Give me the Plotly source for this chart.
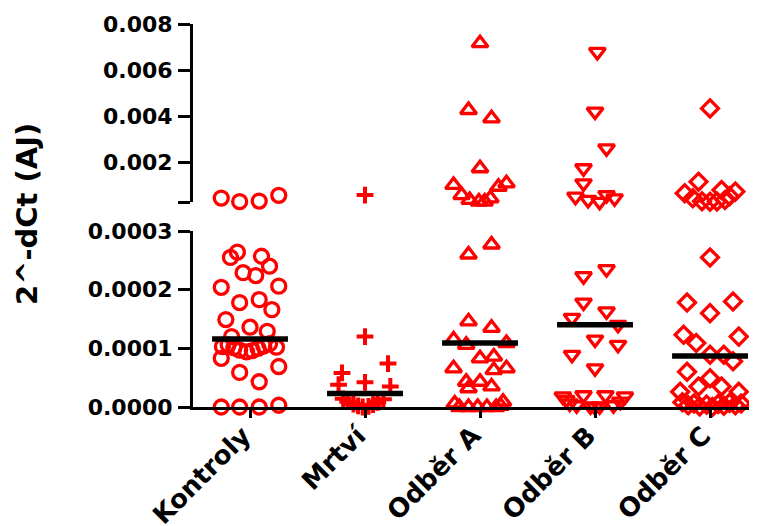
import plotly.graph_objects as go

categories = ["Kontroly", "Mrtví", "Odběr A", "Odběr B", "Odběr C"]

# values (2^-dCt) and horizontal scatter offsets (category units)
kontroly_values = [2.64e-4, 2.55e-4, 2.57e-4, 2.40e-4, 2.29e-4, 2.24e-4, 2.04e-4, 2.06e-4,
                   1.78e-4, 1.83e-4, 1.66e-4, 1.49e-4, 1.36e-4, 1.29e-4, 1.20e-4,
                   1.03e-4, 1.06e-4, 1.01e-4, 0.97e-4, 0.94e-4, 0.96e-4, 1.00e-4, 1.04e-4, 1.08e-4, 1.02e-4,
                   0.83e-4, 0.69e-4, 0.59e-4, 0.43e-4, 0.0, 0.0, 0.0, 0.03e-4,
                   4.7e-4, 3.2e-4, 3.4e-4, 5.9e-4]
kontroly_jitter = [-0.11, -0.17, 0.10, 0.17, -0.06, 0.05, -0.25, 0.25,
                   -0.09, 0.08, 0.19, -0.21, 0.00, 0.15, -0.16,
                   -0.24, -0.19, -0.14, -0.09, -0.03, 0.02, 0.07, 0.12, 0.17, 0.23,
                   -0.25, 0.25, -0.09, 0.08, -0.25, -0.09, 0.08, 0.25,
                   -0.25, -0.09, 0.08, 0.25]

mrtvi_values = [6.0e-4, 1.20e-4, 0.74e-4, 0.58e-4, 0.42e-4, 0.38e-4, 0.35e-4,
                0.14e-4, 0.09e-4, 0.05e-4, 0.02e-4, 0.0, 0.01e-4, 0.04e-4, 0.08e-4, 0.13e-4]
mrtvi_jitter = [0.0, 0.0, 0.20, -0.20, 0.0, -0.23, 0.22,
                -0.19, -0.15, -0.10, -0.06, -0.02, 0.03, 0.07, 0.11, 0.16]

odber_a_values = [7.17e-3, 4.28e-3, 3.92e-3, 1.76e-3, 1.04e-3, 1.11e-3, 0.96e-3, 0.60e-3,
                  0.39e-3, 0.32e-3, 0.32e-3, 0.46e-3,
                  2.60e-4, 2.77e-4, 1.46e-4, 1.35e-4, 1.15e-4, 1.06e-4, 1.09e-4, 0.83e-4, 0.86e-4,
                  0.66e-4, 0.63e-4, 0.66e-4, 0.43e-4, 0.43e-4, 0.35e-4, 0.32e-4, 0.06e-4, 0.09e-4,
                  0.0, 0.0, 0.0, 0.0, 0.0, 0.02e-4]
odber_a_jitter = [0.0, -0.10, 0.10, 0.0, -0.23, 0.23, 0.16, -0.16,
                  -0.09, -0.01, 0.04, 0.09,
                  -0.10, 0.10, -0.10, 0.10, -0.23, -0.12, 0.23, 0.0, 0.12,
                  -0.23, 0.12, 0.23, -0.12, 0.0, 0.10, -0.10, -0.22, 0.20,
                  -0.18, -0.10, -0.02, 0.06, 0.14, 0.18]

odber_b_values = [6.79e-3, 4.21e-3, 2.62e-3, 1.76e-3, 1.11e-3, 0.53e-3, 0.39e-3, 0.31e-3, 0.60e-3, 0.46e-3,
                  2.35e-4, 2.23e-4, 1.78e-4, 1.63e-4, 1.52e-4, 1.40e-4, 1.15e-4, 1.06e-4, 0.89e-4, 0.66e-4,
                  0.18e-4, 0.20e-4, 0.20e-4, 0.18e-4, 0.06e-4, 0.03e-4, 0.01e-4, 0.01e-4, 0.03e-4, 0.09e-4,
                  0.0, 0.12e-4]
odber_b_jitter = [0.02, 0.0, 0.10, -0.10, -0.10, -0.17, -0.06, 0.04, 0.10, 0.17,
                  0.10, -0.10, -0.10, 0.10, -0.20, 0.20, 0.0, 0.20, -0.20, 0.0,
                  -0.28, -0.10, 0.09, 0.26, -0.22, -0.16, -0.04, 0.04, 0.16, 0.22,
                  0.0, -0.25]

odber_c_values = [4.35e-3, 1.18e-3, 0.68e-3, 0.82e-3, 0.75e-3, 0.46e-3, 0.33e-3, 0.31e-3, 0.32e-3,
                  0.39e-3, 0.55e-3,
                  2.55e-4, 1.78e-4, 1.80e-4, 1.60e-4, 1.23e-4, 1.20e-4, 1.09e-4, 0.89e-4, 0.89e-4,
                  0.78e-4, 0.60e-4, 0.49e-4, 0.35e-4, 0.35e-4, 0.26e-4, 0.26e-4,
                  0.08e-4, 0.03e-4, 0.06e-4, 0.01e-4, 0.04e-4, 0.0, 0.05e-4, 0.02e-4, 0.07e-4,
                  0.03e-4, 0.06e-4]
odber_c_jitter = [0.0, -0.10, -0.22, 0.10, 0.22, -0.15, -0.07, 0.0, 0.06,
                  0.13, 0.17,
                  0.0, -0.20, 0.20, 0.0, -0.23, 0.25, -0.12, 0.0, 0.12,
                  0.20, -0.20, 0.0, -0.10, 0.10, -0.26, 0.25,
                  -0.24, -0.19, -0.14, -0.09, -0.03, 0.02, 0.07, 0.12, 0.17,
                  0.22, 0.27]

central_lines = [1.16e-4, 0.23e-4, 1.09e-4, 1.40e-4, 0.87e-4]

break_value = 3e-4
lower_ticks = [0.0, 1e-4, 2e-4, 3e-4]
lower_ticktext = ["0.0000", "0.0001", "0.0002", "0.0003"]
upper_ticks = [3e-4, 2e-3, 4e-3, 6e-3, 8e-3]
upper_ticktext = ["", "0.002", "0.004", "0.006", "0.008"]

groups = [
    (kontroly_values, kontroly_jitter, "circle-open", 14),
    (mrtvi_values, mrtvi_jitter, "cross-thin", 12),
    (odber_a_values, odber_a_jitter, "triangle-up-open", 14),
    (odber_b_values, odber_b_jitter, "triangle-down-open", 14),
    (odber_c_values, odber_c_jitter, "diamond-open", 13),
]

RED = "#ff0000"
FONT = dict(family="DejaVu Sans", color="black", weight="bold")

fig = go.Figure()
for i, (vals, jit, sym, size) in enumerate(groups):
    lo_x = [i + j for v, j in zip(vals, jit) if v <= break_value]
    lo_y = [v for v in vals if v <= break_value]
    hi_x = [i + j for v, j in zip(vals, jit) if v > break_value]
    hi_y = [v for v in vals if v > break_value]
    marker = dict(symbol=sym, size=size, color=RED,
                  line=dict(color=RED, width=4 if sym == "cross-thin" else 3.3))
    fig.add_trace(go.Scatter(x=lo_x, y=lo_y, mode="markers", marker=marker,
                             xaxis="x", yaxis="y", cliponaxis=False, showlegend=False))
    fig.add_trace(go.Scatter(x=hi_x, y=hi_y, mode="markers", marker=marker,
                             xaxis="x", yaxis="y2", cliponaxis=False, showlegend=False))

line_x, line_y = [], []
for i, m in enumerate(central_lines):
    line_x += [i - 0.33, i + 0.33, None]
    line_y += [m, m, None]
fig.add_trace(go.Scatter(x=line_x, y=line_y, mode="lines", line=dict(color="black", width=5.5),
                         xaxis="x", yaxis="y", cliponaxis=False, showlegend=False))

axis_common = dict(showline=True, linecolor="black", linewidth=3, ticks="outside",
                   tickcolor="black", showgrid=False, zeroline=False, automargin=False)

fig.update_layout(
    width=749, height=518,
    margin=dict(l=185, r=2, t=16, b=119),
    paper_bgcolor="white", plot_bgcolor="white",
    xaxis=dict(range=[-0.4957, 4.391], tickmode="array", tickvals=list(range(len(categories))),
               ticktext=categories, tickangle=-45, ticklen=8, tickwidth=3,
               ticklabelshift=-7, ticklabelstandoff=-8,
               tickfont=dict(size=26, **FONT), anchor="y", **axis_common),
    yaxis=dict(domain=[0, 0.4595], range=[0, 3e-4], tickmode="array", tickvals=lower_ticks,
               ticktext=lower_ticktext, ticklen=12, tickwidth=3, ticklabelstandoff=1,
               tickfont=dict(size=22, **FONT), anchor="x", **axis_common),
    yaxis2=dict(domain=[0.5352, 1], range=[3e-4, 8e-3], tickmode="array", tickvals=upper_ticks,
                ticktext=upper_ticktext, ticklen=12, tickwidth=3, ticklabelstandoff=1,
                tickfont=dict(size=22, **FONT), anchor="x", **axis_common),
    annotations=[dict(text="2^-dCt (AJ)", textangle=-90, xref="paper", yref="paper",
                      x=-0.2954, y=0.504, xanchor="center", yanchor="middle", showarrow=False,
                      font=dict(size=29, **FONT))],
)

fig.write_html("out.html")
